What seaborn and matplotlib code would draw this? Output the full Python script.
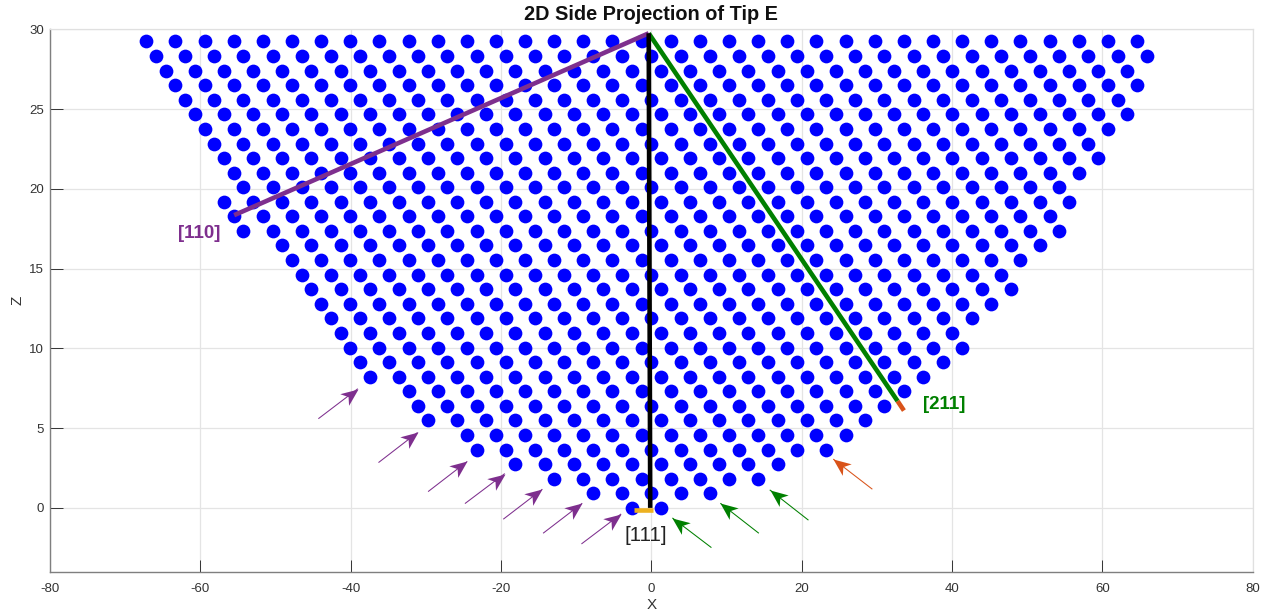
import math
import matplotlib
matplotlib.use("Agg")
import matplotlib.pyplot as plt
import pandas as pd
import seaborn as sns
from matplotlib.markers import MarkerStyle
from matplotlib.path import Path
from matplotlib.transforms import Affine2D

row_z = [0.00, 0.91, 1.83, 2.74, 3.65, 4.57, 5.48, 6.40, 7.31, 8.22, 9.14,
         10.05, 10.96, 11.88, 12.79, 13.71, 14.62, 15.53, 16.45, 17.36, 18.27,
         19.19, 20.10, 21.02, 21.93, 22.84, 23.76, 24.67, 25.58, 26.50, 27.41,
         28.32, 29.24]

row_x = [
    [-2.58, 1.29],
    [-7.75, -3.88, 0, 3.88, 7.75],
    [-12.92, -9.04, -5.17, -1.29, 2.58, 6.46, 10.34, 14.21],
    [-18.09, -14.21, -10.34, -6.46, -2.58, 1.29, 5.17, 9.04, 12.92, 16.80],
    [-23.26, -19.38, -15.50, -11.63, -7.75, -3.88, 0, 3.88, 7.75, 11.63, 15.50, 19.38, 23.26],
    [-24.55, -20.67, -16.80, -12.92, -9.04, -5.17, -1.29, 2.58, 6.46, 10.34, 14.21, 18.09, 21.96, 25.84],
    [-29.72, -25.84, -21.96, -18.09, -14.21, -10.34, -6.46, -2.58, 1.29, 5.17, 9.04, 12.92, 16.80, 20.67, 24.55, 28.42],
    [-31.01, -27.13, -23.26, -19.38, -15.50, -11.63, -7.75, -3.88, 0, 3.88, 7.75, 11.63, 15.50, 19.38, 23.26, 27.13, 31.01],
    [-32.30, -28.42, -24.55, -20.67, -16.80, -12.92, -9.04, -5.17, -1.29, 2.58, 6.46, 10.34, 14.21, 18.09, 21.96, 25.84, 29.72, 33.59],
    [-37.47, -33.59, -29.72, -25.84, -21.96, -18.09, -14.21, -10.34, -6.46, -2.58, 1.29, 5.17, 9.04, 12.92, 16.80, 20.67, 24.55, 28.42, 32.30, 36.18],
    [-38.76, -34.88, -31.01, -27.13, -23.26, -19.38, -15.50, -11.63, -7.75, -3.88, 0, 3.88, 7.75, 11.63, 15.50, 19.38, 23.26, 27.13, 31.01, 34.88, 38.76],
    [-40.05, -36.18, -32.30, -28.42, -24.55, -20.67, -16.80, -12.92, -9.04, -5.17, -1.29, 2.58, 6.46, 10.34, 14.21, 18.09, 21.96, 25.84, 29.72, 33.59, 37.47, 41.34],
    [-41.34, -37.47, -33.59, -29.72, -25.84, -21.96, -18.09, -14.21, -10.34, -6.46, -2.58, 1.29, 5.17, 9.04, 12.92, 16.80, 20.67, 24.55, 28.42, 32.30, 36.18, 40.05],
    [-42.64, -38.76, -34.88, -31.01, -27.13, -23.26, -19.38, -15.50, -11.63, -7.75, -3.88, 0, 3.88, 7.75, 11.63, 15.50, 19.38, 23.26, 27.13, 31.01, 34.88, 38.76, 42.64],
    [-43.93, -40.05, -36.18, -32.30, -28.42, -24.55, -20.67, -16.80, -12.92, -9.04, -5.17, -1.29, 2.58, 6.46, 10.34, 14.21, 18.09, 21.96, 25.84, 29.72, 33.59, 37.47, 41.34, 45.22],
    [-45.22, -41.34, -37.47, -33.59, -29.72, -25.84, -21.96, -18.09, -14.21, -10.34, -6.46, -2.58, 1.29, 5.17, 9.04, 12.92, 16.80, 20.67, 24.55, 28.42, 32.30, 36.18, 40.05, 43.93, 47.80],
    [-46.51, -42.64, -38.76, -34.88, -31.01, -27.13, -23.26, -19.38, -15.50, -11.63, -7.75, -3.88, 0, 3.88, 7.75, 11.63, 15.50, 19.38, 23.26, 27.13, 31.01, 34.88, 38.76, 42.64, 46.51],
    [-47.80, -43.93, -40.05, -36.18, -32.30, -28.42, -24.55, -20.67, -16.80, -12.92, -9.04, -5.17, -1.29, 2.58, 6.46, 10.34, 14.21, 18.09, 21.96, 25.84, 29.72, 33.59, 37.47, 41.34, 45.22, 49.10],
    [-49.10, -45.22, -41.34, -37.47, -33.59, -29.72, -25.84, -21.96, -18.09, -14.21, -10.34, -6.46, -2.58, 1.29, 5.17, 9.04, 12.92, 16.80, 20.67, 24.55, 28.42, 32.30, 36.18, 40.05, 43.93, 47.80, 51.68],
    [-54.26, -50.39, -46.51, -42.64, -38.76, -34.88, -31.01, -27.13, -23.26, -19.38, -15.50, -11.63, -7.75, -3.88, 0, 3.88, 7.75, 11.63, 15.50, 19.38, 23.26, 27.13, 31.01, 34.88, 38.76, 42.64, 46.51, 50.39, 54.26],
    [-55.56, -51.68, -47.80, -43.93, -40.05, -36.18, -32.30, -28.42, -24.55, -20.67, -16.80, -12.92, -9.04, -5.17, -1.29, 2.58, 6.46, 10.34, 14.21, 18.09, 21.96, 25.84, 29.72, 33.59, 37.47, 41.34, 45.22, 49.10, 52.97],
    [-56.85, -52.97, -49.10, -45.22, -41.34, -37.47, -33.59, -29.72, -25.84, -21.96, -18.09, -14.21, -10.34, -6.46, -2.58, 1.29, 5.17, 9.04, 12.92, 16.80, 20.67, 24.55, 28.42, 32.30, 36.18, 40.05, 43.93, 47.80, 51.68, 55.56],
    [-54.26, -50.39, -46.51, -42.64, -38.76, -34.88, -31.01, -27.13, -23.26, -19.38, -15.50, -11.63, -7.75, -3.88, 0, 3.88, 7.75, 11.63, 15.50, 19.38, 23.26, 27.13, 31.01, 34.88, 38.76, 42.64, 46.51, 50.39, 54.26],
    [-55.56, -51.68, -47.80, -43.93, -40.05, -36.18, -32.30, -28.42, -24.55, -20.67, -16.80, -12.92, -9.04, -5.17, -1.29, 2.58, 6.46, 10.34, 14.21, 18.09, 21.96, 25.84, 29.72, 33.59, 37.47, 41.34, 45.22, 49.10, 52.97, 56.85],
    [-56.85, -52.97, -49.10, -45.22, -41.34, -37.47, -33.59, -29.72, -25.84, -21.96, -18.09, -14.21, -10.34, -6.46, -2.58, 1.29, 5.17, 9.04, 12.92, 16.80, 20.67, 24.55, 28.42, 32.30, 36.18, 40.05, 43.93, 47.80, 51.68, 55.56, 59.43],
    [-58.14, -54.26, -50.39, -46.51, -42.64, -38.76, -34.88, -31.01, -27.13, -23.26, -19.38, -15.50, -11.63, -7.75, -3.88, 0, 3.88, 7.75, 11.63, 15.50, 19.38, 23.26, 27.13, 31.01, 34.88, 38.76, 42.64, 46.51, 50.39, 54.26, 58.14],
    [-59.43, -55.56, -51.68, -47.80, -43.93, -40.05, -36.18, -32.30, -28.42, -24.55, -20.67, -16.80, -12.92, -9.04, -5.17, -1.29, 2.58, 6.46, 10.34, 14.21, 18.09, 21.96, 25.84, 29.72, 33.59, 37.47, 41.34, 45.22, 49.10, 52.97, 56.85, 60.72],
    [-60.72, -56.85, -52.97, -49.10, -45.22, -41.34, -37.47, -33.59, -29.72, -25.84, -21.96, -18.09, -14.21, -10.34, -6.46, -2.58, 1.29, 5.17, 9.04, 12.92, 16.80, 20.67, 24.55, 28.42, 32.30, 36.18, 40.05, 43.93, 47.80, 51.68, 55.56, 59.43, 63.31],
    [-62.02, -58.14, -54.26, -50.39, -46.51, -42.64, -38.76, -34.88, -31.01, -27.13, -23.26, -19.38, -15.50, -11.63, -7.75, -3.88, 0, 3.88, 7.75, 11.63, 15.50, 19.38, 23.26, 27.13, 31.01, 34.88, 38.76, 42.64, 46.51, 50.39, 54.26, 58.14, 62.02],
    [-63.31, -59.43, -55.56, -51.68, -47.80, -43.93, -40.05, -36.18, -32.30, -28.42, -24.55, -20.67, -16.80, -12.92, -9.04, -5.17, -1.29, 2.58, 6.46, 10.34, 14.21, 18.09, 21.96, 25.84, 29.72, 33.59, 37.47, 41.34, 45.22, 49.10, 52.97, 56.85, 60.72, 64.60],
    [-64.60, -60.72, -56.85, -52.97, -49.10, -45.22, -41.34, -37.47, -33.59, -29.72, -25.84, -21.96, -18.09, -14.21, -10.34, -6.46, -2.58, 1.29, 5.17, 9.04, 12.92, 16.80, 20.67, 24.55, 28.42, 32.30, 36.18, 40.05, 43.93, 47.80, 51.68, 55.56, 59.43, 63.31],
    [-65.89, -62.02, -58.14, -54.26, -50.39, -46.51, -42.64, -38.76, -34.88, -31.01, -27.13, -23.26, -19.38, -15.50, -11.63, -7.75, -3.88, 0, 3.88, 7.75, 11.63, 15.50, 19.38, 23.26, 27.13, 31.01, 34.88, 38.76, 42.64, 46.51, 50.39, 54.26, 58.14, 62.02, 65.89],
    [-67.18, -63.31, -59.43, -55.56, -51.68, -47.80, -43.93, -40.05, -36.18, -32.30, -28.42, -24.55, -20.67, -16.80, -12.92, -9.04, -5.17, -1.29, 2.58, 6.46, 10.34, 14.21, 18.09, 21.96, 25.84, 29.72, 33.59, 37.47, 41.34, 45.22, 49.10, 52.97, 56.85, 60.72, 64.60],
]

# Direction lines: [x0, x1], [z0, z1]
line_110_x, line_110_z = [-0.35, -55.5], [29.75, 18.35]
line_211_x, line_211_z = [-0.35, 32.75], [29.75, 6.7]
tip_211_x, tip_211_z = [32.75, 33.6], [6.7, 6.1]
line_111_x, line_111_z = [-0.35, -0.15], [29.75, 0.0]
tip_111_x, tip_111_z = [-2.26, 0.2], [-0.15, -0.15]

# Arrows: tail x, tail z, head x, head z
purple_tail_x = [-44.3, -36.3, -29.7, -24.8, -19.7, -14.4, -9.3]
purple_tail_z = [5.59, 2.84, 1.02, 0.27, -0.71, -1.59, -2.26]
purple_head_x = [-39.05, -31.1, -24.5, -19.5, -14.5, -9.2, -4.03]
purple_head_z = [7.47, 4.73, 2.91, 2.15, 1.17, 0.29, -0.38]
green_tail_x = [7.99, 14.3, 20.9]
green_tail_z = [-2.49, -1.59, -0.77]
green_head_x = [2.8, 9.18, 15.75]
green_head_z = [-0.63, 0.29, 1.13]
orange_tail_x = [29.4]
orange_tail_z = [1.17]
orange_head_x = [24.2]
orange_head_z = [3.06]

x_ticks = [-80, -60, -40, -20, 0, 20, 40, 60, 80]
z_ticks = [0, 5, 10, 15, 20, 25, 30]

PURPLE, GREEN, ORANGE, YELLOW = "#7E2F8E", "#008000", "#D95319", "#EDB120"

sns.set_theme(style="white")
plt.rcParams["font.family"] = ["Liberation Sans", "DejaVu Sans"]
plt.rcParams["axes.unicode_minus"] = False

fig = plt.figure(figsize=(12.65, 6.13), dpi=100)
ax = fig.add_axes([50 / 1265, (613 - 571.7) / 613, 1202.7 / 1265, 542.4 / 613])

atoms = pd.concat(
    [pd.DataFrame({"X": xs, "Z": z}) for xs, z in zip(row_x, row_z)],
    ignore_index=True,
)
sns.scatterplot(data=atoms, x="X", y="Z", color="#0000FF", s=98, linewidth=0, ax=ax, zorder=3)

LW = 3.3
ax.plot(tip_211_x, tip_211_z, color=ORANGE, lw=LW, solid_capstyle="butt", zorder=4)
ax.plot(line_211_x, line_211_z, color=GREEN, lw=LW, solid_capstyle="butt", zorder=5)
ax.plot(line_110_x, line_110_z, color=PURPLE, lw=LW, solid_capstyle="butt", zorder=5)
ax.plot(line_111_x, line_111_z, color="black", lw=LW, solid_capstyle="butt", zorder=6)
ax.plot(tip_111_x, tip_111_z, color=YELLOW, lw=LW, solid_capstyle="butt", zorder=7)

ax.set_xlim(-80, 80)
ax.set_ylim(-4, 30)

head_path = Path([(0, 0), (-1, 0.42), (-0.72, 0), (-1, -0.42), (0, 0)], closed=True)


def arrows(tx, tz, hx, hz, color):
    for a, b, c, d in zip(tx, tz, hx, hz):
        ax.plot([a, c], [b, d], color=color, lw=0.75, solid_capstyle="butt", zorder=8)
        p0 = ax.transData.transform((a, b))
        p1 = ax.transData.transform((c, d))
        angle = math.atan2(p1[1] - p0[1], p1[0] - p0[0])
        marker = MarkerStyle(head_path, transform=Affine2D().rotate(angle))
        ax.plot([c], [d], marker=marker, markersize=25, color=color, markeredgewidth=0, zorder=9)


arrows(purple_tail_x, purple_tail_z, purple_head_x, purple_head_z, PURPLE)
arrows(green_tail_x, green_tail_z, green_head_x, green_head_z, GREEN)
arrows(orange_tail_x, orange_tail_z, orange_head_x, orange_head_z, ORANGE)

ax.text(-60.2, 17.2, "[110]", color=PURPLE, fontsize=13.5, fontweight="bold", ha="center", va="center")
ax.text(39.0, 6.5, "[211]", color=GREEN, fontsize=13.5, fontweight="bold", ha="center", va="center")
ax.text(-0.7, -1.72, "[111]", color="#222222", fontsize=14.8, ha="center", va="center")

ax.set_xticks(x_ticks)
ax.set_yticks(z_ticks)
ax.grid(True, color="#E4E4E4", lw=0.9)
ax.set_axisbelow(True)
ax.tick_params(axis="both", direction="in", length=9, width=0.7, color="#333333",
               labelsize=9.5, labelcolor="#333333", bottom=True, left=True, top=False, right=False)
ax.tick_params(axis="x", pad=8)
ax.tick_params(axis="y", pad=4.5)
for name, spine in ax.spines.items():
    if name in ("left", "bottom"):
        spine.set_color("#7F7F7F")
        spine.set_linewidth(1.0)
    else:
        spine.set_color("#E0E0E0")
        spine.set_linewidth(0.9)

ax.set_xlabel("X", fontsize=11, color="#333333", labelpad=2)
ax.set_ylabel("Z", fontsize=11, color="#333333", labelpad=3)
ax.set_title("2D Side Projection of Tip E", fontsize=14.3, fontweight="bold", color="#111111", pad=7)

fig.savefig("out.png", dpi=100)
